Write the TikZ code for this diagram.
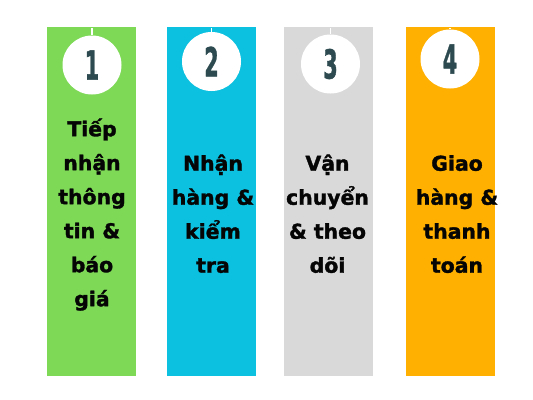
\documentclass[tikz,border=0pt]{standalone}
\usepackage{fontspec}
\setmainfont{DejaVu Sans}
\newfontfamily\heavyfont{DejaVu Sans}[FakeBold=1.6]
\newfontfamily\numfont{DejaVu Sans}[FakeBold=1.3]
\usepackage{graphicx}
\definecolor{cgreen}{HTML}{7ED957}
\definecolor{cblue}{HTML}{0CC0DF}
\definecolor{cgray}{HTML}{D9D9D9}
\definecolor{corange}{HTML}{FFB000}
\definecolor{cnum}{HTML}{2C4A4F}
\definecolor{ctext}{HTML}{050505}
\begin{document}
\begin{tikzpicture}[x=0.75pt,y=-0.75pt,
  bar/.style={draw=none, inner sep=0pt, minimum width=66.75pt, minimum height=261.75pt},
  disc/.style={circle, fill=white, draw=none, inner sep=0pt, minimum size=44.25pt,
    text=cnum, font=\numfont\fontsize{30}{30}\selectfont\bfseries},
  thread/.style={draw=white, line width=1.2pt},
  caption/.style={anchor=north, inner sep=0pt, align=center, text=ctext,
    font=\heavyfont\fontsize{15.3}{25.5}\selectfont\bfseries}]
\useasboundingbox[fill=white] (0,0) rectangle (533,400);
% bars
\node[bar, fill=cgreen]  (b1) at (91.5,201.5) {};
\node[bar, fill=cblue]   (b2) at (211.5,201.5) {};
\node[bar, fill=cgray]   (b3) at (328,201.5) {};
\node[bar, fill=corange] (b4) at (450.5,201.5) {};
% circles
\node[disc] (c1) at (92,65)      {\scalebox{0.52}[1]{1}};
\node[disc] (c2) at (211.5,61.5) {\scalebox{0.52}[1]{2}};
\node[disc] (c3) at (330.5,64)   {\scalebox{0.52}[1]{3}};
\node[disc] (c4) at (450,59)     {\scalebox{0.52}[1]{4}};
% threads
\draw[thread] (c1.north) -- ([yshift=-0.6pt]c1.north |- b1.north);
\draw[thread] (c2.north) -- ([yshift=-0.6pt]c2.north |- b2.north);
\draw[thread] (c3.north) -- ([yshift=-0.6pt]c3.north |- b3.north);
\draw[thread] (c4.north) -- ([yshift=-0.6pt]c4.north |- b4.north);
% captions
\node[caption] (t1) at (92,109.3)    {\rule{0pt}{20pt}Tiếp\\nhận\\thông\\tin \&\\báo\\giá};
\node[caption] (t2) at (213,143.8)   {\rule{0pt}{20pt}Nhận\\hàng \&\\kiểm\\tra};
\node[caption] (t3) at (327.5,143.8) {\rule{0pt}{20pt}Vận\\chuyển\\\& theo\\dõi};
\node[caption] (t4) at (457,143.8)   {\rule{0pt}{20pt}Giao\\hàng \&\\thanh\\toán};
\end{tikzpicture}
\end{document}
